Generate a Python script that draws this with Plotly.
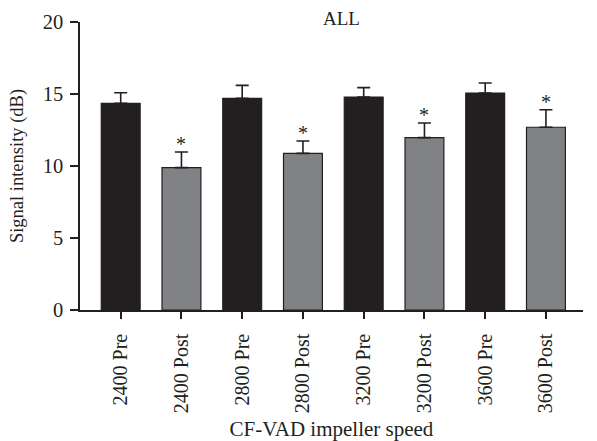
import plotly.graph_objects as go

categories = ["2400 Pre", "2400 Post", "2800 Pre", "2800 Post",
              "3200 Pre", "3200 Post", "3600 Pre", "3600 Post"]
means = [14.35, 9.89, 14.7, 10.88, 14.79, 11.97, 15.07, 12.69]
errors = [0.74, 1.08, 0.9, 0.86, 0.65, 1.02, 0.69, 1.22]
significant = [False, True, False, True, False, True, False, True]

PRE = "#231f20"
POST = "#808285"
colors = [PRE if "Pre" in c else POST for c in categories]
FONT = "Liberation Serif, Times New Roman, serif"

fig = go.Figure()
fig.add_trace(go.Bar(
    x=categories, y=means,
    marker=dict(color=colors, line=dict(color=PRE, width=1.2)),
    width=0.64,
    error_y=dict(type="data", array=errors, arrayminus=[0]*len(errors),
                 symmetric=False, color=PRE, thickness=1.6, width=6.5),
    showlegend=False,
))

for c, m, e, s in zip(categories, means, errors, significant):
    if s:
        fig.add_annotation(x=c, y=m + e, text="*", showarrow=False,
                           yanchor="bottom", yshift=-5,
                           font=dict(family=FONT, size=20, color=PRE))

fig.add_annotation(x=0.52, xref="paper", y=20, yref="y", text="ALL",
                   showarrow=False, yanchor="middle", yshift=4,
                   font=dict(family=FONT, size=19, color=PRE))

fig.update_layout(
    width=597, height=441,
    margin=dict(l=80, r=14, t=22, b=131),
    paper_bgcolor="white", plot_bgcolor="white",
    font=dict(family=FONT, size=19, color=PRE),
    xaxis=dict(
        type="category", range=[-0.67, 7.61], automargin=False,
        showline=True, linecolor=PRE, linewidth=1.5,
        ticks="outside", ticklen=7, tickwidth=1.5, tickcolor=PRE,
        tickangle=-90, showgrid=False, ticklabelstandoff=7,
        tickfont=dict(size=20),
        title=dict(text="CF-VAD impeller speed", font=dict(size=21), standoff=11),
    ),
    yaxis=dict(
        range=[0, 20], tickvals=[0, 5, 10, 15, 20], automargin=False,
        showline=True, linecolor=PRE, linewidth=1.5,
        ticks="outside", ticklen=8, tickwidth=1.5, tickcolor=PRE,
        showgrid=False, zeroline=False, ticklabelstandoff=3,
        tickfont=dict(size=20.5),
        title=dict(text="Signal intensity (dB)", font=dict(size=18.5), standoff=14),
    ),
)

fig.write_html("out.html", config={"displayModeBar": False},
               post_script="document.body.style.margin='0';document.body.style.padding='0';")
